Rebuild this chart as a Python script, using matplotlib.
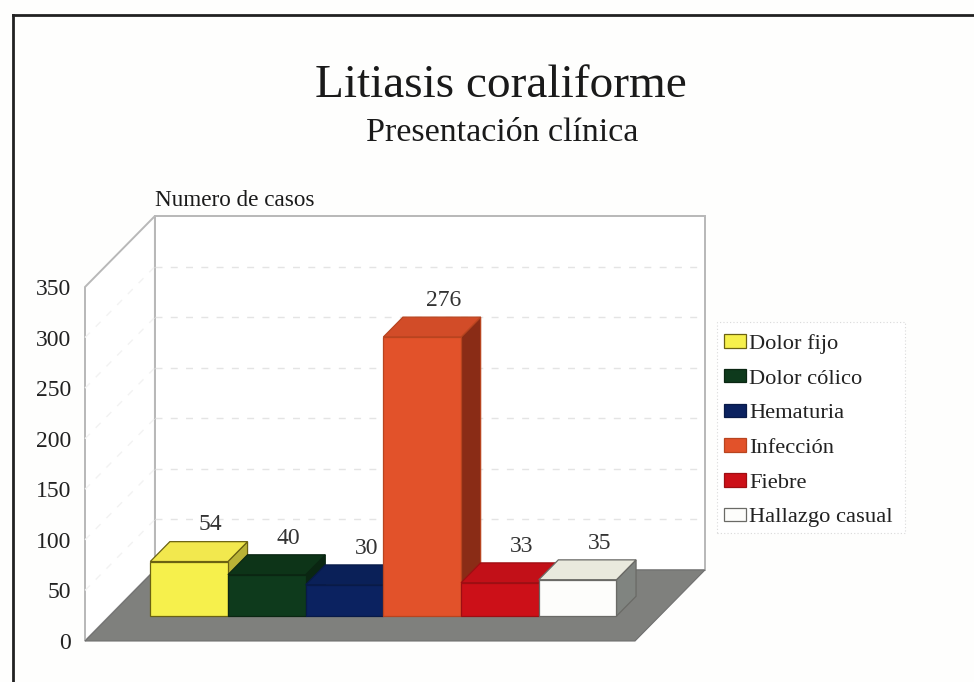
import matplotlib
matplotlib.use("Agg")
import matplotlib.pyplot as plt
from matplotlib.patches import Polygon, Patch, Rectangle
from matplotlib.lines import Line2D

categories = ["Dolor fijo", "Dolor cólico", "Hematuria", "Infección", "Fiebre", "Hallazgo casual"]
values = [54, 40, 30, 276, 33, 35]
labels = ["54", "40", "30", "276", "33", "35"]
heights = [54, 41, 31, 276, 33, 36]
yticks = [0, 50, 100, 150, 200, 250, 300, 350]
front_colors = ["#F6F04C", "#0E3A1C", "#0B2260", "#E2522A", "#CC1018", "#FDFDFB"]
top_colors = ["#F2E84E", "#0D3418", "#0A2058", "#D24C28", "#C21018", "#E9E9DD"]
side_colors = ["#B9B236", "#0A2612", "#081A48", "#8A2C16", "#8E0C12", "#808480"]
edge_colors = ["#6B6212", "#0A2612", "#081A48", "#B8441F", "#9E0E12", "#6A6A66"]

W, H = 974, 682
plt.rcParams["font.family"] = ["Liberation Serif", "DejaVu Serif"]
fig = plt.figure(figsize=(W / 100, H / 100), dpi=100, facecolor="#FEFEFD")

def px_rect(x0, y0, x1, y1):
    return [x0 / W, 1 - y1 / H, (x1 - x0) / W, (y1 - y0) / H]

ax = fig.add_axes(px_rect(85, 287, 635, 641))
ax.patch.set_alpha(0)
XMAX = 550 / 77.7
ax.set_xlim(0, XMAX)
ax.set_ylim(0, 350)

DX, DY = 0.9, 70.2
def proj(x, v, d):
    return (x + DX * d, v + DY * d)

def poly(pts, **kw):
    ax.add_patch(Polygon(pts, closed=True, clip_on=False, **kw))

# walls and floor
wall = "#B8B8B8"
poly([proj(0, 0, 1), proj(XMAX, 0, 1), proj(XMAX, 350, 1), proj(0, 350, 1)],
     facecolor="white", edgecolor=wall, linewidth=1.4, zorder=1)
poly([proj(0, 0, 0), proj(0, 0, 1), proj(0, 350, 1), proj(0, 350, 0)],
     facecolor="white", edgecolor=wall, linewidth=1.4, zorder=1)
for t in yticks[1:-1]:
    p0, p1 = proj(0, t, 1), proj(XMAX, t, 1)
    ax.add_line(Line2D([p0[0], p1[0]], [p0[1], p1[1]], color="#E4E4E4", lw=1, ls=(0, (5, 6)),
                       clip_on=False, zorder=1.5))
    p2 = proj(0, t, 0)
    ax.add_line(Line2D([p2[0], p0[0]], [p2[1], p0[1]], color="#F2F2F2", lw=1, ls=(0, (5, 6)),
                       clip_on=False, zorder=1.5))
poly([proj(0, 0, 0), proj(XMAX, 0, 0), proj(XMAX, 0, 1), proj(0, 0, 1)],
     facecolor="#7F807D", edgecolor="#707070", linewidth=0.8, zorder=2)

# bars
START, D0, D1 = 0.525, 0.35, 0.63
for i, (h, lab) in enumerate(zip(heights, labels)):
    x0, x1 = START + i, START + i + 1
    kw = dict(linewidth=0.9, edgecolor=edge_colors[i], zorder=3 + i)
    poly([proj(x1, 0, D0), proj(x1, 0, D1), proj(x1, h, D1), proj(x1, h, D0)],
         facecolor=side_colors[i], **kw)
    poly([proj(x0, h, D0), proj(x1, h, D0), proj(x1, h, D1), proj(x0, h, D1)],
         facecolor=top_colors[i], **kw)
    poly([proj(x0, 0, D0), proj(x1, 0, D0), proj(x1, h, D0), proj(x0, h, D0)],
         facecolor=front_colors[i], **kw)
    ax.annotate(lab, xy=proj((x0 + x1) / 2, h, D1), xytext=(1.5, 12), textcoords="offset points",
                ha="center", va="center", fontsize=17, color="#333333", zorder=20,
                annotation_clip=False)

ax.set_xticks([])
ax.set_yticks(yticks)
ax.set_yticklabels([str(t) for t in yticks], fontsize=17, color="#222222")
ax.tick_params(axis="y", length=0, pad=10)
for s in ax.spines.values():
    s.set_visible(False)

# legend
fig.add_artist(Rectangle((717 / W, 1 - 533 / H), 188 / W, 211 / H, transform=fig.transFigure,
                         facecolor="white", edgecolor="#DADADA", linewidth=0.8, linestyle=(0, (1, 2))))
handles = [Patch(facecolor=f, edgecolor=e, linewidth=0.9) for f, e in zip(front_colors, edge_colors)]
leg = fig.legend(handles, categories, loc="upper left",
                 bbox_to_anchor=(724 / W, 1 - 334 / H), borderaxespad=0,
                 fontsize=16.2, frameon=False, handlelength=0.98, handleheight=0.55,
                 handletextpad=0.15, labelspacing=0.665, borderpad=0, labelcolor="#222222")

# titles
fig.text(501 / W, 1 - 86 / H, "Litiasis coraliforme", ha="center", va="center", fontsize=34, color="#1A1A1A")
fig.text(502 / W, 1 - 133 / H, "Presentación clínica", ha="center", va="center", fontsize=24.5, color="#1A1A1A")
fig.text(155 / W, 1 - 201 / H, "Numero de casos", ha="left", va="center", fontsize=16.7, color="#1A1A1A")

# scanned page frame
fig.add_artist(Line2D([13 / W, 13 / W], [1 - 15 / H, 0], color="#222222", lw=2))
fig.add_artist(Line2D([13 / W, 1], [1 - 15 / H, 1 - 15 / H], color="#222222", lw=2))

fig.savefig("out.png", dpi=100, facecolor=fig.get_facecolor())
